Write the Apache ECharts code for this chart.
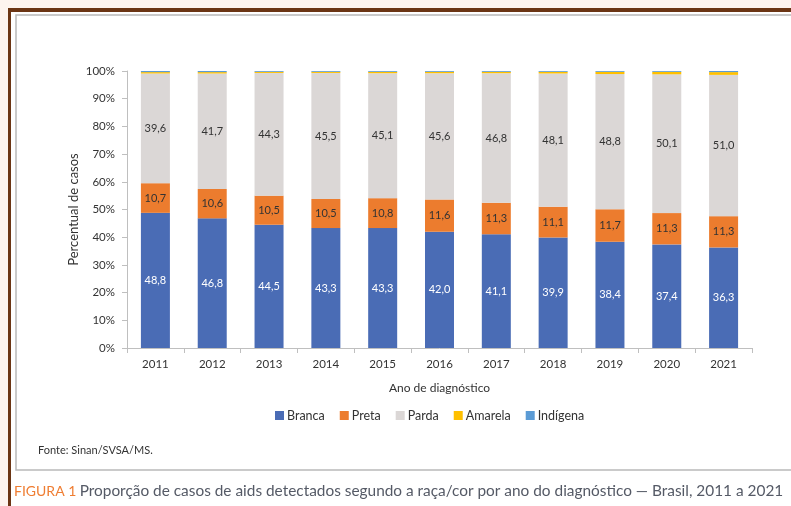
<!DOCTYPE html>
<html>
<head>
<meta charset="utf-8">
<script src="https://cdn.jsdelivr.net/npm/echarts@6/dist/echarts.min.js"></script>
<style>
  html, body { margin:0; padding:0; background:#fdf4ef; }
  #chart { width:791px; height:506px; }
</style>
</head>
<body>
<div id="chart"></div>
<script>
// anos do diagnóstico
const years = ['2011','2012','2013','2014','2015','2016','2017','2018','2019','2020','2021'];
const branca = [48.8, 46.8, 44.5, 43.3, 43.3, 42.0, 41.1, 39.9, 38.4, 37.4, 36.3];
const preta = [10.7, 10.6, 10.5, 10.5, 10.8, 11.6, 11.3, 11.1, 11.7, 11.3, 11.3];
const parda = [39.6, 41.7, 44.3, 45.5, 45.1, 45.6, 46.8, 48.1, 48.8, 50.1, 51.0];
const amarela = [0.5, 0.5, 0.4, 0.4, 0.5, 0.5, 0.5, 0.6, 0.8, 0.9, 1.0];
const indigena = [0.4, 0.4, 0.3, 0.3, 0.3, 0.3, 0.3, 0.3, 0.3, 0.3, 0.4];

const FONT = 'Lato, "Open Sans", sans-serif';

function fmt(p){
    return p.value.toFixed(1).replace('.', ',');
}

function serie(name, data, color, label){
    return {
        name: name,
        type: 'bar',
        stack: 'total',
        data: data,
        barWidth: 29,
        itemStyle: { color: color },
        label: label ? {
            show: true,
            position: 'inside',
            formatter: fmt,
            color: label,
            fontSize: 11,
            fontFamily: FONT
        } : { show: false }
    };
}

let myChart = echarts.init(document.getElementById('chart'));
let option = {
    backgroundColor: '#fdf4ef',
    animation: false,
    textStyle: { fontFamily: FONT },
    graphic: [
        { type:'rect', shape:{ x:8, y:8, width:790, height:510 }, style:{ fill:'#ffffff' }, z:-10 },
        { type:'rect', shape:{ x:8, y:8, width:790, height:4 }, style:{ fill:'#6b3514' }, z:-9 },
        { type:'rect', shape:{ x:8, y:8, width:3, height:510 }, style:{ fill:'#6b3514' }, z:-9 },
        { type:'rect', shape:{ x:16, y:15, width:800, height:455 }, style:{ fill:'#ffffff', stroke:'#b9b9b9', lineWidth:1.5 }, z:-8 },
        { type:'text', left:38, top:445, style:{ text:'Fonte: Sinan/SVSA/MS.', fill:'#333', font:'11px ' + FONT } },
        { type:'text', left:14, top:484, style:{
            text:'{a|FIGURA 1} {b|Proporção de casos de aids detectados segundo a raça/cor por ano do diagnóstico — Brasil, 2011 a 2021}',
            rich:{
                a:{ fill:'#ef7d32', font:'14px ' + FONT },
                b:{ fill:'#555a66', font:'15.4px ' + FONT }
            }
        } }
    ],
    grid: { left:127, right:39, top:71, bottom:158 },
    legend: {
        data: ['Branca','Preta','Parda','Amarela','Indígena'],
        left: 270,
        top: 404,
        itemWidth: 9,
        itemHeight: 9,
        itemGap: 15,
        icon: 'rect',
        textStyle: { fontSize: 12.5, color:'#333', fontFamily: FONT, padding:[0,0,0,-2] }
    },
    xAxis: {
        type: 'category',
        data: years,
        name: 'Ano de diagnóstico',
        nameLocation: 'middle',
        nameGap: 34,
        nameTextStyle: { fontSize: 12, color:'#333' },
        axisLine: { lineStyle: { color:'#bfbfbf' } },
        axisTick: { show:true, alignWithLabel:false, length:5, lineStyle:{ color:'#bfbfbf' } },
        axisLabel: { color:'#333', fontSize:11.5, margin:10 }
    },
    yAxis: {
        type: 'value',
        min: 0,
        max: 100,
        interval: 10,
        name: 'Percentual de casos',
        nameLocation: 'middle',
        nameGap: 47,
        nameMoveOverlap: false,
        nameTextStyle: { fontSize: 13, color:'#333' },
        axisLine: { show:true, lineStyle:{ color:'#bfbfbf' } },
        axisTick: { show:true, length:5, lineStyle:{ color:'#bfbfbf' } },
        splitLine: { show:false },
        axisLabel: { color:'#333', fontSize:11.5, margin:12, formatter:'{value}%' }
    },
    series: [
        serie('Branca', branca, '#4a6cb5', '#ffffff'),
        serie('Preta', preta, '#ec7c2e', '#333333'),
        serie('Parda', parda, '#dbd7d6', '#333333'),
        serie('Amarela', amarela, '#ffc000', null),
        serie('Indígena', indigena, '#5b9bd5', null)
    ]
};
myChart.setOption(option);
</script>
</body>
</html>
